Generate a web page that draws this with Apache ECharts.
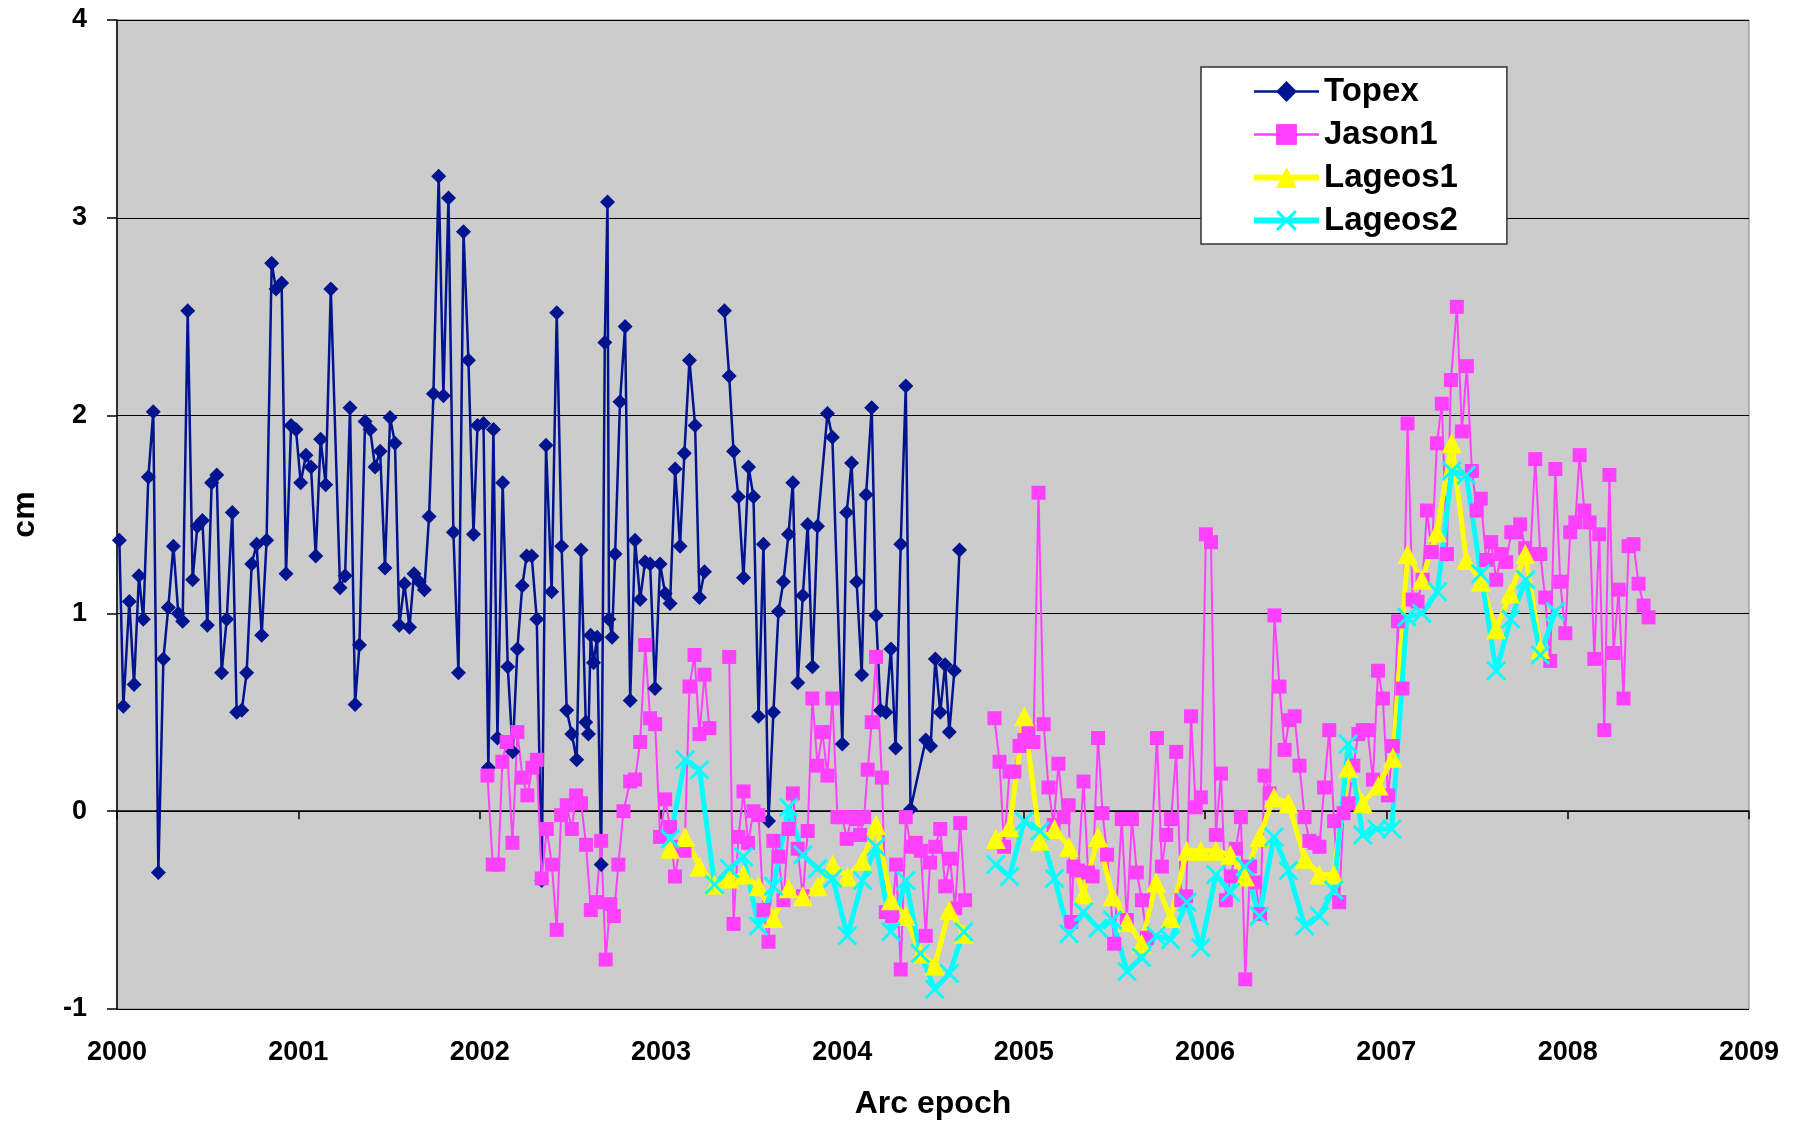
<!DOCTYPE html>
<html>
<head>
<meta charset="utf-8">
<script src="https://cdn.jsdelivr.net/npm/echarts@6/dist/echarts.min.js"></script>
<style>
html,body{margin:0;padding:0;background:#fff;overflow:hidden;width:1798px;height:1125px;}
#chart{width:1798px;height:1125px;overflow:hidden;}
</style>
</head>
<body>
<div id="chart"></div>
<script>
// ---- Data ----
var xTicks = [2000, 2001, 2002, 2003, 2004, 2005, 2006, 2007, 2008, 2009];
var yTicks = [-1, 0, 1, 2, 3, 4];

var topexDates = [2000.013,2000.035,2000.068,2000.094,2000.121,2000.145,2000.173,2000.200,2000.228,2000.256,2000.283,2000.311,2000.338,2000.362,2000.390,2000.417,2000.443,2000.471,2000.498,2000.522,2000.550,2000.577,2000.605,2000.636,2000.660,2000.688,2000.715,2000.743,2000.770,2000.798,2000.825,2000.853,2000.877,2000.908,2000.932,2000.960,2000.987,2001.013,2001.042,2001.070,2001.096,2001.123,2001.151,2001.179,2001.230,2001.258,2001.285,2001.313,2001.337,2001.368,2001.396,2001.423,2001.451,2001.478,2001.506,2001.533,2001.557,2001.585,2001.613,2001.638,2001.667,2001.695,2001.721,2001.745,2001.774,2001.800,2001.828,2001.855,2001.883,2001.911,2001.938,2001.966,2001.988,2002.021,2002.048,2002.076,2002.098,2002.127,2002.155,2002.182,2002.208,2002.235,2002.259,2002.287,2002.315,2002.342,2002.366,2002.397,2002.425,2002.452,2002.480,2002.508,2002.535,2002.559,2002.585,2002.600,2002.612,2002.628,2002.648,2002.670,2002.690,2002.705,2002.713,2002.730,2002.747,2002.774,2002.802,2002.830,2002.857,2002.885,2002.912,2002.940,2002.967,2002.995,2003.023,2003.050,2003.078,2003.105,2003.129,2003.157,2003.188,2003.212,2003.240,2003.300,2003.350,2003.376,2003.400,2003.427,2003.455,2003.483,2003.510,2003.538,2003.565,2003.593,2003.620,2003.648,2003.675,2003.703,2003.727,2003.754,2003.782,2003.809,2003.835,2003.863,2003.918,2003.945,2004.000,2004.024,2004.051,2004.079,2004.107,2004.131,2004.162,2004.186,2004.211,2004.240,2004.268,2004.294,2004.322,2004.350,2004.376,2004.460,2004.487,2004.513,2004.540,2004.567,2004.590,2004.618,2004.646];
var topexValues = [1.37,0.53,1.06,0.64,1.19,0.97,1.69,2.02,-0.31,0.77,1.03,1.34,1.00,0.96,2.53,1.17,1.44,1.47,0.94,1.66,1.70,0.70,0.97,1.51,0.50,0.51,0.70,1.25,1.35,0.89,1.37,2.77,2.64,2.67,1.20,1.95,1.93,1.66,1.80,1.74,1.29,1.88,1.65,2.64,1.13,1.19,2.04,0.54,0.84,1.97,1.93,1.74,1.82,1.23,1.99,1.86,0.94,1.15,0.93,1.20,1.16,1.12,1.49,2.11,3.21,2.10,3.10,1.41,0.70,2.93,2.28,1.40,1.95,1.96,0.22,1.93,0.37,1.66,0.73,0.30,0.82,1.14,1.29,1.29,0.97,-0.35,1.85,1.11,2.52,1.34,0.51,0.39,0.26,1.32,0.45,0.39,0.89,0.75,0.88,-0.27,2.37,3.08,0.97,0.88,1.30,2.07,2.45,0.56,1.37,1.07,1.26,1.25,0.62,1.25,1.10,1.05,1.73,1.34,1.81,2.28,1.95,1.08,1.21,null,2.53,2.20,1.82,1.59,1.18,1.74,1.59,0.48,1.35,-0.05,0.50,1.01,1.16,1.40,1.66,0.65,1.09,1.45,0.73,1.44,2.01,1.89,0.34,1.51,1.76,1.16,0.69,1.60,2.04,0.99,0.51,0.50,0.82,0.32,1.35,2.15,0.01,0.36,0.33,0.77,0.50,0.74,0.40,0.71,1.32];

var jasonDates = [2002.043,2002.072,2002.103,2002.125,2002.149,2002.181,2002.208,2002.236,2002.263,2002.291,2002.315,2002.342,2002.370,2002.398,2002.425,2002.449,2002.480,2002.508,2002.532,2002.559,2002.587,2002.613,2002.642,2002.670,2002.695,2002.720,2002.740,2002.765,2002.793,2002.830,2002.857,2002.885,2002.913,2002.940,2002.968,2002.995,2003.023,2003.050,2003.077,2003.105,2003.130,2003.157,2003.185,2003.212,2003.240,2003.267,2003.320,2003.376,2003.400,2003.427,2003.455,2003.480,2003.510,2003.538,2003.565,2003.593,2003.620,2003.648,2003.675,2003.703,2003.727,2003.754,2003.782,2003.809,2003.835,2003.863,2003.890,2003.918,2003.945,2003.973,2004.000,2004.024,2004.051,2004.079,2004.098,2004.120,2004.140,2004.162,2004.186,2004.218,2004.240,2004.273,2004.297,2004.322,2004.350,2004.378,2004.405,2004.433,2004.460,2004.484,2004.512,2004.540,2004.567,2004.594,2004.622,2004.650,2004.677,2004.760,2004.839,2004.867,2004.892,2004.922,2004.949,2004.977,2005.004,2005.026,2005.054,2005.082,2005.110,2005.137,2005.165,2005.192,2005.220,2005.248,2005.262,2005.275,2005.300,2005.330,2005.355,2005.380,2005.410,2005.435,2005.460,2005.499,2005.541,2005.569,2005.597,2005.624,2005.652,2005.679,2005.735,2005.762,2005.786,2005.813,2005.841,2005.869,2005.896,2005.923,2005.949,2005.977,2006.005,2006.033,2006.060,2006.088,2006.115,2006.143,2006.170,2006.198,2006.222,2006.249,2006.277,2006.304,2006.328,2006.356,2006.383,2006.411,2006.439,2006.464,2006.494,2006.521,2006.549,2006.576,2006.604,2006.631,2006.657,2006.685,2006.712,2006.740,2006.764,2006.791,2006.818,2006.846,2006.870,2006.896,2006.926,2006.954,2006.981,2007.009,2007.036,2007.064,2007.089,2007.117,2007.145,2007.172,2007.200,2007.224,2007.251,2007.279,2007.306,2007.334,2007.356,2007.389,2007.417,2007.444,2007.472,2007.499,2007.521,2007.551,2007.578,2007.606,2007.633,2007.661,2007.689,2007.716,2007.738,2007.766,2007.794,2007.821,2007.849,2007.876,2007.904,2007.932,2007.959,2007.987,2008.014,2008.042,2008.066,2008.092,2008.121,2008.147,2008.174,2008.202,2008.230,2008.253,2008.281,2008.308,2008.336,2008.363,2008.391,2008.419,2008.446];
var jasonValues = [0.18,-0.27,-0.27,0.25,0.35,-0.16,0.40,0.17,0.08,0.22,0.26,-0.34,-0.09,-0.27,-0.60,-0.02,0.03,-0.09,0.08,0.04,-0.17,-0.50,-0.46,-0.15,-0.75,-0.47,-0.53,-0.27,0.00,0.15,0.16,0.35,0.84,0.47,0.44,-0.13,0.06,-0.08,-0.33,-0.18,-0.20,0.63,0.79,0.39,0.69,0.42,null,0.78,-0.57,-0.13,0.10,-0.16,0.00,-0.02,-0.50,-0.66,-0.15,-0.23,-0.45,-0.09,0.09,-0.19,-0.43,-0.10,0.57,0.23,0.40,0.18,0.57,-0.03,-0.03,-0.14,-0.03,-0.04,-0.12,-0.03,0.21,0.45,0.78,0.17,-0.51,-0.53,-0.27,-0.80,-0.03,-0.18,-0.16,-0.20,-0.63,-0.26,-0.18,-0.09,-0.38,-0.24,-0.49,-0.06,-0.45,null,0.47,0.25,-0.18,0.20,0.20,0.33,0.36,0.40,0.35,1.61,0.44,0.12,-0.07,0.24,-0.03,0.03,-0.56,-0.28,-0.30,0.15,-0.31,-0.33,0.37,-0.01,-0.22,-0.67,-0.04,-0.55,-0.04,-0.31,-0.45,-0.64,0.37,-0.28,-0.12,-0.04,0.30,-0.45,-0.43,0.48,0.02,0.07,1.40,1.36,-0.12,0.19,-0.45,-0.33,-0.19,-0.03,-0.85,-0.28,-0.36,-0.52,0.18,0.09,0.99,0.63,0.31,0.46,0.48,0.23,-0.03,-0.15,-0.16,-0.18,0.12,0.41,-0.05,-0.46,-0.01,0.04,0.23,0.39,0.41,0.41,0.16,0.71,0.57,0.08,0.33,0.96,0.62,1.96,1.07,1.06,1.17,1.52,1.31,1.86,2.06,1.30,2.18,2.55,1.92,2.25,1.72,1.52,1.58,1.27,1.36,1.17,1.30,1.26,1.41,1.41,1.45,1.33,1.30,1.78,1.30,1.08,0.76,1.73,1.16,0.90,1.41,1.46,1.80,1.52,1.46,0.77,1.40,0.41,1.70,0.80,1.12,0.57,1.34,1.35,1.15,1.04,0.98];

var lageos1Dates = [2003.050,2003.133,2003.212,2003.295,2003.377,2003.455,2003.538,2003.620,2003.703,2003.782,2003.864,2003.947,2004.028,2004.111,2004.186,2004.268,2004.350,2004.430,2004.510,2004.590,2004.670,2004.760,2004.846,2004.922,2005.003,2005.090,2005.170,2005.250,2005.330,2005.410,2005.490,2005.570,2005.650,2005.730,2005.810,2005.900,2005.977,2006.060,2006.140,2006.220,2006.300,2006.380,2006.460,2006.550,2006.630,2006.710,2006.790,2006.870,2006.956,2007.036,2007.117,2007.196,2007.279,2007.361,2007.441,2007.521,2007.605,2007.683,2007.766,2007.849];
var lageos1Values = [-0.19,-0.13,-0.28,-0.37,-0.34,-0.32,-0.38,-0.54,-0.39,-0.43,-0.38,-0.27,-0.33,-0.25,-0.07,-0.45,-0.53,-0.72,-0.78,-0.50,-0.62,null,-0.14,-0.08,0.48,-0.15,-0.09,-0.18,-0.42,-0.13,-0.43,-0.56,-0.67,-0.36,-0.54,-0.20,-0.20,-0.20,-0.22,-0.33,-0.13,0.07,0.04,-0.24,-0.32,-0.32,0.22,0.04,0.13,0.27,1.30,1.17,1.41,1.86,1.27,1.16,0.92,1.10,1.30,0.82];

var lageos2Dates = [2003.050,2003.133,2003.212,2003.295,2003.377,2003.455,2003.538,2003.620,2003.703,2003.782,2003.864,2003.947,2004.028,2004.111,2004.186,2004.268,2004.350,2004.430,2004.510,2004.590,2004.670,2004.760,2004.846,2004.922,2005.003,2005.090,2005.170,2005.250,2005.330,2005.410,2005.490,2005.570,2005.650,2005.730,2005.810,2005.900,2005.977,2006.060,2006.140,2006.220,2006.300,2006.380,2006.460,2006.550,2006.630,2006.710,2006.790,2006.870,2006.948,2007.030,2007.113,2007.196,2007.282,2007.361,2007.441,2007.521,2007.606,2007.686,2007.769,2007.849,2007.932];
var lageos2Values = [-0.14,0.26,0.21,-0.37,-0.29,-0.23,-0.58,-0.38,0.02,-0.22,-0.29,-0.34,-0.63,-0.35,-0.18,-0.61,-0.35,-0.72,-0.90,-0.82,-0.61,null,-0.27,-0.33,-0.05,-0.10,-0.34,-0.62,-0.51,-0.59,-0.55,-0.81,-0.74,-0.63,-0.65,-0.46,-0.69,-0.32,-0.41,-0.28,-0.53,-0.13,-0.30,-0.58,-0.53,-0.40,0.34,-0.12,-0.09,-0.09,0.98,1.00,1.11,1.72,1.70,1.20,0.71,0.97,1.17,0.79,1.01];

function pairs(xs, ys) {
  var out = [];
  for (var i = 0; i < xs.length; i++) out.push([xs[i], ys[i] === null ? '-' : ys[i]]);
  return out;
}

var FONT = "Arial, 'Liberation Sans', sans-serif";
var crossPath = 'path://M0,1 L1,0 L5,4 L9,0 L10,1 L6,5 L10,9 L9,10 L5,6 L1,10 L0,9 L4,5 Z';

var chart = echarts.init(document.getElementById('chart'), null, {renderer: 'canvas', width: 1798, height: 1125});
chart.setOption({
  animation: false,
  backgroundColor: '#ffffff',
  grid: {
    left: 117, right: 49, top: 20, bottom: 112,
    show: true, backgroundColor: '#CCCCCC', borderColor: '#808080', borderWidth: 1
  },
  legend: {
    orient: 'vertical',
    left: 1201, top: 67,
    backgroundColor: '#ffffff',
    borderColor: '#333333', borderWidth: 1.5, borderRadius: 0,
    padding: [5, 49, 4, 50],
    itemWidth: 65, itemHeight: 26, itemGap: 4,
    textStyle: {fontFamily: FONT, fontSize: 33, fontWeight: 'bold', color: '#000', lineHeight: 39},
    data: [
      {name: 'Topex', lineStyle: {width: 2.5}},
      {name: 'Jason1', lineStyle: {width: 2.5}},
      {name: 'Lageos1', lineStyle: {width: 6}},
      {name: 'Lageos2', lineStyle: {width: 6}}
    ]
  },
  xAxis: {
    type: 'value', min: xTicks[0], max: xTicks[xTicks.length - 1], interval: 1,
    name: 'Arc epoch', nameLocation: 'middle', nameGap: 79,
    nameTextStyle: {fontFamily: FONT, fontSize: 32, fontWeight: 'bold', color: '#000'},
    axisLine: {lineStyle: {color: '#000', width: 1.5}},
    axisTick: {show: true, length: 8, lineStyle: {color: '#000', width: 1.5}},
    axisLabel: {fontFamily: FONT, fontSize: 27, fontWeight: 'bold', color: '#000', margin: 30,
      formatter: function (v) { return String(Math.round(v)); }},
    splitLine: {show: false}
  },
  yAxis: {
    type: 'value', min: yTicks[0], max: yTicks[yTicks.length - 1], interval: 1,
    name: 'cm', nameLocation: 'middle', nameGap: 76, nameRotate: 90,
    nameTextStyle: {fontFamily: FONT, fontSize: 32, fontWeight: 'bold', color: '#000'},
    axisLine: {show: true, lineStyle: {color: '#000', width: 1.5}},
    axisTick: {show: true, length: 10, lineStyle: {color: '#000', width: 1.5}},
    axisLabel: {fontFamily: FONT, fontSize: 27, fontWeight: 'bold', color: '#000', margin: 30},
    splitLine: {show: true, lineStyle: {color: '#000', width: 1}}
  },
  series: [
    {
      name: 'Topex', type: 'line', data: pairs(topexDates, topexValues),
      symbol: 'diamond', symbolSize: 15, showAllSymbol: true, connectNulls: false,
      lineStyle: {color: '#001490', width: 2.5},
      itemStyle: {color: '#001490'}
    },
    {
      name: 'Jason1', type: 'line', data: pairs(jasonDates, jasonValues),
      symbol: 'rect', symbolSize: 14, showAllSymbol: true, connectNulls: false,
      lineStyle: {color: '#FF40FF', width: 2},
      itemStyle: {color: '#FF40FF'}
    },
    {
      name: 'Lageos1', type: 'line', data: pairs(lageos1Dates, lageos1Values),
      symbol: 'triangle', symbolSize: 20, showAllSymbol: true, connectNulls: false,
      lineStyle: {color: '#FFFF00', width: 5},
      itemStyle: {color: '#FFFF00'}
    },
    {
      name: 'Lageos2', type: 'line', data: pairs(lageos2Dates, lageos2Values),
      symbol: crossPath, symbolSize: 20, showAllSymbol: true, connectNulls: false,
      lineStyle: {color: '#00FFFF', width: 5},
      itemStyle: {color: '#00FFFF'}
    }
  ]
});
</script>
</body>
</html>
